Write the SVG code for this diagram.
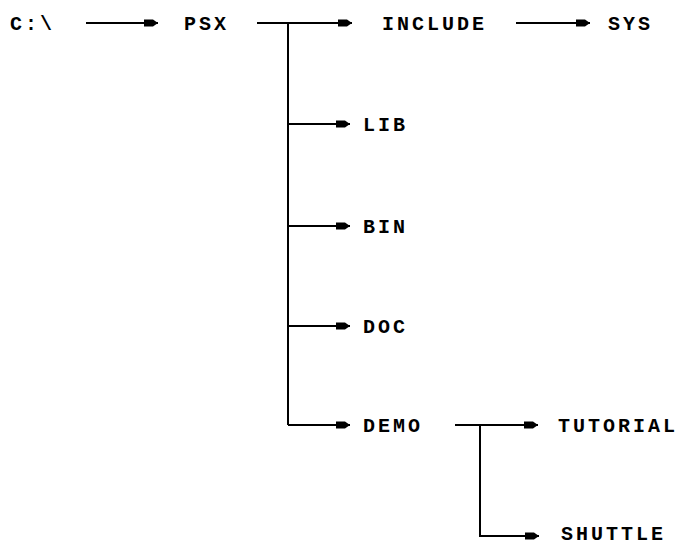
<svg xmlns="http://www.w3.org/2000/svg" width="685" height="546" viewBox="0 0 685 546">
<style>
  text { font-family: "Liberation Mono", "DejaVu Sans Mono", monospace; font-weight: bold; font-size: 20px; letter-spacing: 3px; fill: #000; }
  .c { stroke: #000; stroke-width: 2; fill: none; }
</style>
<defs>
  <marker id="ah" markerUnits="userSpaceOnUse" markerWidth="18" markerHeight="12" refX="16" refY="6" orient="auto">
    <path d="M16,6 L11,2.5 L2,2.5 L2,9.5 L11,9.5 Z" fill="#000"/>
  </marker>
</defs>
<rect width="685" height="546" fill="#fff"/>
<g id="connectors">
  <path class="c" d="M86,23 H158" marker-end="url(#ah)"/>
  <path class="c" d="M257,23 H352" marker-end="url(#ah)"/>
  <path class="c" d="M288,23 V425"/>
  <path class="c" d="M516,23 H590" marker-end="url(#ah)"/>
  <path class="c" d="M288,124 H350" marker-end="url(#ah)"/>
  <path class="c" d="M288,226 H350" marker-end="url(#ah)"/>
  <path class="c" d="M288,326 H350" marker-end="url(#ah)"/>
  <path class="c" d="M288,425 H350" marker-end="url(#ah)"/>
  <path class="c" d="M455,425 H538" marker-end="url(#ah)"/>
  <path class="c" d="M480,425 V536 H539" marker-end="url(#ah)"/>
</g>
<g id="node-c"><text x="10" y="30">C:\</text></g>
<g id="node-psx"><text x="184" y="30">PSX</text></g>
<g id="node-include"><text x="382" y="30">INCLUDE</text></g>
<g id="node-sys"><text x="608" y="30">SYS</text></g>
<g id="node-lib"><text x="363" y="131">LIB</text></g>
<g id="node-bin"><text x="363" y="233">BIN</text></g>
<g id="node-doc"><text x="363" y="333">DOC</text></g>
<g id="node-demo"><text x="363" y="432">DEMO</text></g>
<g id="node-tutorial"><text x="558" y="432">TUTORIAL</text></g>
<g id="node-shuttle"><text x="561" y="540">SHUTTLE</text></g>
</svg>
